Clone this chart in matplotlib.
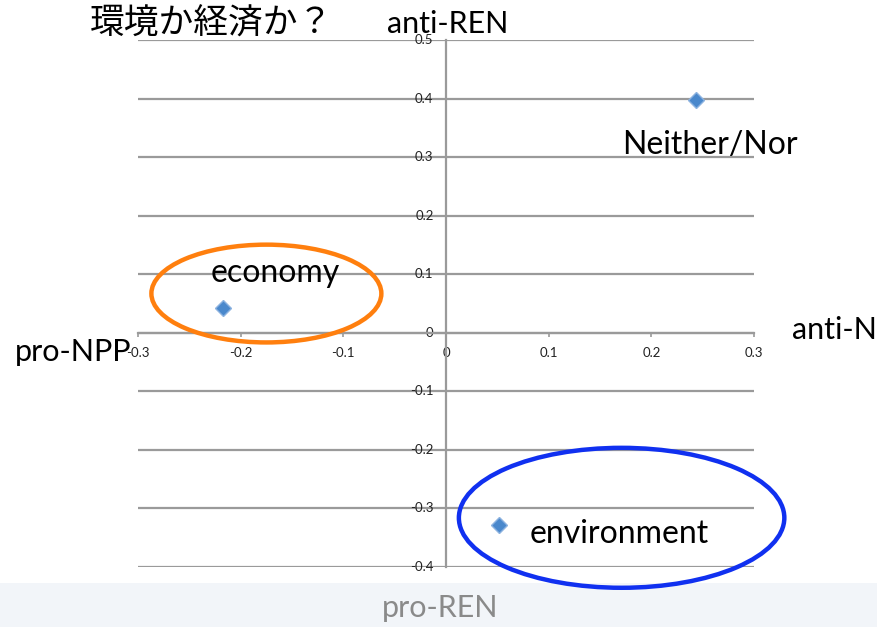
import matplotlib.pyplot as plt
from matplotlib.patches import Ellipse, Rectangle
import numpy as np

# data
labels = ["Neither/Nor", "economy", "environment"]
x_vals = [0.243, -0.217, 0.052]
y_vals = [0.398, 0.043, -0.329]
x_ticks = [-0.3, -0.2, -0.1, 0, 0.1, 0.2, 0.3]
y_ticks = [-0.4, -0.3, -0.2, -0.1, 0, 0.1, 0.2, 0.3, 0.4, 0.5]

plt.rcParams['font.family'] = ['Lato', 'DejaVu Sans']

fig = plt.figure(figsize=(8.77, 6.27), dpi=100)

# bande grise en bas
fig.patches.append(Rectangle((0, 0), 1, 0.07, transform=fig.transFigure,
                             facecolor='#f2f5f9', edgecolor='none', zorder=-5))

ax = fig.add_axes([0.1574, 0.0957, 0.7024, 0.8405])
ax.set_xlim(-0.3, 0.3)
ax.set_ylim(-0.4, 0.5)
ax.patch.set_alpha(0)
ax.set_zorder(2)

for yt in y_ticks:
    ax.axhline(yt, color='#9a9a9a', lw=1.6, zorder=1)

ax.spines['left'].set_position(('data', 0))
ax.spines['bottom'].set_position(('data', 0))
ax.spines['top'].set_visible(False)
ax.spines['right'].set_visible(False)
for s in ['left', 'bottom']:
    ax.spines[s].set_color('#9a9a9a')
    ax.spines[s].set_linewidth(1.6)

ax.set_xticks(x_ticks)
ax.set_yticks(y_ticks)
ax.set_xticklabels(['-0.3', '-0.2', '-0.1', '0', '0.1', '0.2', '0.3'])
ax.set_yticklabels(['-0.4', '-0.3', '-0.2', '-0.1', '0', '0.1', '0.2', '0.3', '0.4', '0.5'])
ax.tick_params(axis='both', labelsize=9.5, color='#9a9a9a', width=1.2,
               labelcolor='#222222')
ax.tick_params(axis='x', length=3, pad=7)
ax.tick_params(axis='y', length=0, pad=9)
for t in ax.get_yticklabels():
    t.set_va('top')
    t.set_y(0)
for t in ax.get_yticklabels():
    t.set_transform(t.get_transform() + plt.matplotlib.transforms.ScaledTranslation(0, 6 / 100, fig.dpi_scale_trans))

# points
ax.plot(x_vals, y_vals, 'D', color='#4a88cc', markersize=8, zorder=3,
        markeredgecolor='#8db3e0', markeredgewidth=1)

# étiquettes des points
ax.text(x_vals[0] + 0.014, y_vals[0] - 0.077, labels[0], fontsize=23, ha='center', va='center')
ax.text(x_vals[1] + 0.051, y_vals[1] + 0.059, labels[1], fontsize=23, ha='center', va='center')
ax.text(x_vals[2] + 0.117, y_vals[2] - 0.014, labels[2], fontsize=23, ha='center', va='center')

# ellipses
ax.add_patch(Ellipse((-0.175, 0.067), 0.224, 0.167, fill=False, edgecolor='#ff7f0e',
                     lw=3.2, clip_on=False, zorder=4))
ax.add_patch(Ellipse((0.171, -0.316), 0.317, 0.239, fill=False, edgecolor='#1030f0',
                     lw=3.2, clip_on=False, zorder=4))

# titres et axes
fig.text(90 / 877, 1 - 24 / 627, '環境か経済か？', fontsize=25, ha='left', va='center',
         family=['Noto Sans CJK JP', 'DejaVu Sans'])
fig.text(448 / 877, 1 - 24 / 627, 'anti-REN', fontsize=22, ha='center', va='center')
fig.text(15 / 877, 1 - 352 / 627, 'pro-NPP', fontsize=22, ha='left', va='center')
fig.text(792 / 877, 1 - 330 / 627, 'anti-NPP', fontsize=22, ha='left', va='center')
fig.text(440 / 877, 1 - 608 / 627, 'pro-REN', fontsize=22, ha='center', va='center',
         color='#8a8a8a')

plt.savefig('out.png', dpi=100)
